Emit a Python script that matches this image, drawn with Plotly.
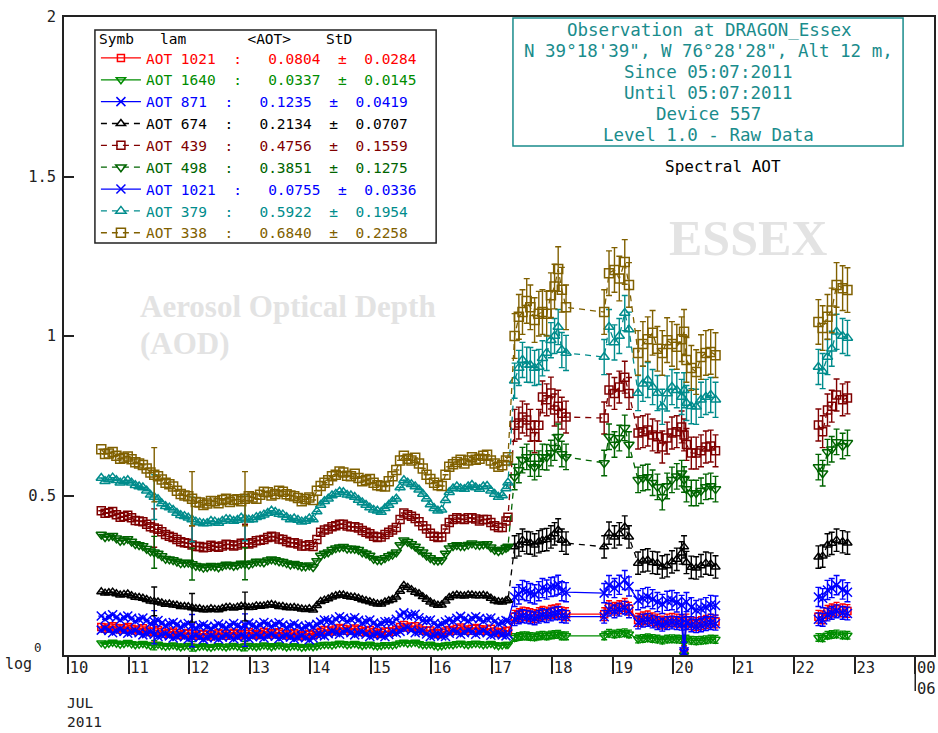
import plotly.graph_objects as go

# ---------------------------------------------------------------------------
# Observation times, day of July 2011 (the 21.50 row breaks the line 20.7 -> 22.4)
# ---------------------------------------------------------------------------
TIME = [10.55, 10.6125, 10.675, 10.7375, 10.80, 10.8625, 10.925, 10.9875,
        11.05, 11.1125, 11.175, 11.2375, 11.30, 11.3625, 11.425, 11.4875,
        11.55, 11.6125, 11.675, 11.7375, 11.80, 11.8625, 11.925, 11.9875,
        12.05, 12.1125, 12.175, 12.2375, 12.30, 12.3625, 12.425, 12.4875,
        12.55, 12.6125, 12.675, 12.7375, 12.80, 12.8625, 12.925, 12.9875,
        13.05, 13.1125, 13.175, 13.2375, 13.30, 13.3625, 13.425, 13.4875,
        13.55, 13.6125, 13.675, 13.7375, 13.80, 13.8625, 13.925, 13.9875,
        14.05, 14.1125, 14.175, 14.2375, 14.30, 14.3625, 14.425, 14.4875,
        14.55, 14.6125, 14.675, 14.7375, 14.80, 14.8625, 14.925, 14.9875,
        15.05, 15.1125, 15.175, 15.2375, 15.30, 15.3625, 15.425, 15.4875,
        15.55, 15.6125, 15.675, 15.7375, 15.80, 15.8625, 15.925, 15.9875,
        16.05, 16.1125, 16.175, 16.2375, 16.30, 16.3625, 16.425, 16.4875,
        16.55, 16.6125, 16.675, 16.7375, 16.80, 16.8625, 16.925, 16.9875,
        17.05, 17.1125, 17.175, 17.2375, 17.27,
        17.38, 17.45, 17.51, 17.58, 17.64, 17.71, 17.78, 17.84, 17.91, 17.98, 18.04, 18.10, 18.16, 18.23,
        18.86, 18.94, 19.03, 19.11, 19.20, 19.27,
        19.42, 19.50, 19.58, 19.66, 19.74, 19.82, 19.90, 19.98, 20.06, 20.14, 20.18, 20.22,
        20.30, 20.38, 20.46, 20.54, 20.62, 20.70,
        21.50,
        22.40, 22.47, 22.55, 22.62, 22.70, 22.80, 22.88]

# Spectral AOT per wavelength (nm)
AOT_1021 = [0.088, 0.082, 0.086, 0.090, 0.085, 0.080, 0.084, 0.088, 0.082, 0.077,
            0.080, 0.084, 0.077, 0.072, 0.074, 0.078, 0.072, 0.067, 0.070, 0.074,
            0.068, 0.062, 0.066, 0.069, 0.065, 0.060, 0.064, 0.067, 0.063, 0.058,
            0.064, 0.069, 0.065, 0.060, 0.066, 0.070, 0.065, 0.061, 0.066, 0.071,
            0.066, 0.062, 0.067, 0.073, 0.069, 0.064, 0.068, 0.071, 0.066, 0.061,
            0.065, 0.069, 0.064, 0.059, 0.063, 0.067, 0.062, 0.068, 0.073, 0.078,
            0.077, 0.074, 0.080, 0.085, 0.082, 0.076, 0.080, 0.083, 0.078, 0.072,
            0.075, 0.078, 0.071, 0.066, 0.070, 0.074, 0.074, 0.073, 0.079, 0.088,
            0.094, 0.086, 0.089, 0.090, 0.083, 0.077, 0.076, 0.077, 0.070, 0.065,
            0.069, 0.074, 0.078, 0.076, 0.082, 0.086, 0.080, 0.076, 0.082, 0.085,
            0.081, 0.076, 0.080, 0.082, 0.074, 0.069, 0.072, 0.076, 0.075,
            0.120, 0.125, 0.130, 0.128, 0.125, 0.122, 0.128, 0.132, 0.130, 0.135, 0.137, 0.140, 0.130, 0.128,
            0.128, 0.150, 0.145, 0.150, 0.157, 0.145,
            0.110, 0.115, 0.118, 0.112, 0.108, 0.102, 0.108, 0.110, 0.108, 0.105, 0.010, 0.108,
            0.100, 0.097, 0.100, 0.104, 0.108, 0.105,
            None,
            0.120, 0.118, 0.135, 0.140, 0.145, 0.140, 0.138]

AOT_1640 = [0.038, 0.034, 0.037, 0.040, 0.037, 0.034, 0.036, 0.039, 0.035, 0.032,
            0.034, 0.036, 0.033, 0.030, 0.031, 0.034, 0.030, 0.027, 0.029, 0.031,
            0.028, 0.025, 0.028, 0.030, 0.027, 0.024, 0.027, 0.029, 0.026, 0.024,
            0.027, 0.029, 0.027, 0.025, 0.028, 0.030, 0.027, 0.025, 0.028, 0.030,
            0.028, 0.026, 0.028, 0.031, 0.029, 0.026, 0.029, 0.031, 0.028, 0.025,
            0.027, 0.029, 0.027, 0.024, 0.026, 0.028, 0.026, 0.028, 0.031, 0.033,
            0.033, 0.031, 0.034, 0.037, 0.035, 0.032, 0.034, 0.036, 0.033, 0.030,
            0.032, 0.034, 0.030, 0.028, 0.030, 0.032, 0.032, 0.031, 0.034, 0.038,
            0.040, 0.037, 0.038, 0.040, 0.035, 0.032, 0.032, 0.034, 0.030, 0.027,
            0.029, 0.031, 0.033, 0.032, 0.035, 0.037, 0.034, 0.032, 0.035, 0.037,
            0.035, 0.032, 0.034, 0.036, 0.032, 0.029, 0.031, 0.033, 0.033,
            0.055, 0.058, 0.060, 0.060, 0.058, 0.057, 0.060, 0.062, 0.060, 0.063, 0.064, 0.065, 0.060, 0.060,
            0.060, 0.068, 0.066, 0.068, 0.070, 0.066,
            0.050, 0.052, 0.054, 0.052, 0.050, 0.047, 0.050, 0.051, 0.050, 0.049, 0.000, 0.050,
            0.046, 0.045, 0.046, 0.048, 0.050, 0.049,
            None,
            0.055, 0.054, 0.062, 0.064, 0.066, 0.063, 0.062]

AOT_871 = [0.122, 0.112, 0.120, 0.126, 0.118, 0.110, 0.118, 0.122, 0.115, 0.106,
           0.112, 0.116, 0.108, 0.099, 0.104, 0.108, 0.100, 0.092, 0.098, 0.102,
           0.096, 0.088, 0.094, 0.099, 0.092, 0.085, 0.090, 0.095, 0.089, 0.083,
           0.090, 0.097, 0.091, 0.085, 0.093, 0.099, 0.092, 0.087, 0.094, 0.100,
           0.093, 0.088, 0.095, 0.102, 0.097, 0.090, 0.096, 0.101, 0.094, 0.086,
           0.092, 0.097, 0.091, 0.083, 0.089, 0.094, 0.088, 0.096, 0.103, 0.110,
           0.108, 0.103, 0.113, 0.120, 0.115, 0.106, 0.112, 0.117, 0.109, 0.100,
           0.105, 0.110, 0.100, 0.093, 0.099, 0.104, 0.105, 0.102, 0.112, 0.125,
           0.132, 0.122, 0.125, 0.128, 0.117, 0.108, 0.107, 0.110, 0.099, 0.092,
           0.097, 0.104, 0.110, 0.106, 0.115, 0.121, 0.113, 0.107, 0.115, 0.120,
           0.114, 0.106, 0.113, 0.116, 0.105, 0.098, 0.102, 0.108, 0.106,
           0.182, 0.190, 0.204, 0.200, 0.194, 0.190, 0.200, 0.210, 0.205, 0.213, 0.215, 0.220, 0.200, 0.197,
           0.194, 0.219, 0.210, 0.220, 0.235, 0.215,
           0.172, 0.178, 0.182, 0.175, 0.166, 0.160, 0.170, 0.172, 0.165, 0.157, 0.010, 0.166,
           0.150, 0.141, 0.145, 0.150, 0.157, 0.155,
           None,
           0.182, 0.178, 0.204, 0.210, 0.219, 0.205, 0.197]

AOT_674 = [0.198, 0.194, 0.195, 0.197, 0.192, 0.188, 0.190, 0.191, 0.186, 0.181,
           0.180, 0.178, 0.174, 0.169, 0.168, 0.166, 0.163, 0.159, 0.160, 0.157,
           0.156, 0.152, 0.152, 0.151, 0.148, 0.145, 0.145, 0.142, 0.142, 0.145,
           0.143, 0.142, 0.146, 0.149, 0.150, 0.147, 0.150, 0.153, 0.152, 0.149,
           0.150, 0.154, 0.153, 0.154, 0.157, 0.158, 0.156, 0.152, 0.152, 0.149,
           0.148, 0.149, 0.147, 0.144, 0.143, 0.145, 0.141, 0.155, 0.168, 0.172,
           0.176, 0.182, 0.186, 0.188, 0.188, 0.184, 0.182, 0.181, 0.178, 0.173,
           0.170, 0.167, 0.163, 0.160, 0.160, 0.166, 0.170, 0.174, 0.182, 0.200,
           0.218, 0.212, 0.205, 0.197, 0.192, 0.183, 0.175, 0.166, 0.160, 0.156,
           0.157, 0.169, 0.180, 0.186, 0.188, 0.186, 0.185, 0.188, 0.188, 0.186,
           0.186, 0.187, 0.185, 0.178, 0.170, 0.167, 0.166, 0.170, 0.172,
           0.339, 0.345, 0.360, 0.352, 0.351, 0.345, 0.355, 0.360, 0.362, 0.370, 0.380, 0.392, 0.360, 0.351,
           0.339, 0.382, 0.370, 0.380, 0.401, 0.370,
           0.288, 0.295, 0.298, 0.290, 0.288, 0.276, 0.280, 0.292, 0.300, 0.320, 0.339, 0.290,
           0.275, 0.273, 0.280, 0.288, 0.285, 0.276,
           None,
           0.307, 0.310, 0.345, 0.350, 0.360, 0.355, 0.351]

AOT_439 = [0.452, 0.444, 0.446, 0.450, 0.440, 0.432, 0.434, 0.438, 0.430, 0.422,
           0.420, 0.418, 0.410, 0.402, 0.398, 0.394, 0.386, 0.378, 0.372, 0.368,
           0.362, 0.355, 0.352, 0.350, 0.345, 0.340, 0.340, 0.336, 0.338, 0.344,
           0.340, 0.338, 0.342, 0.347, 0.346, 0.342, 0.345, 0.350, 0.350, 0.348,
           0.352, 0.358, 0.360, 0.362, 0.368, 0.372, 0.370, 0.364, 0.362, 0.356,
           0.352, 0.352, 0.348, 0.342, 0.342, 0.346, 0.340, 0.362, 0.385, 0.392,
           0.395, 0.402, 0.405, 0.410, 0.410, 0.404, 0.402, 0.402, 0.398, 0.390,
           0.385, 0.380, 0.372, 0.368, 0.370, 0.378, 0.385, 0.392, 0.400, 0.425,
           0.445, 0.440, 0.435, 0.428, 0.418, 0.405, 0.395, 0.382, 0.372, 0.368,
           0.370, 0.395, 0.415, 0.425, 0.430, 0.426, 0.425, 0.430, 0.430, 0.426,
           0.420, 0.425, 0.425, 0.415, 0.405, 0.400, 0.400, 0.420, 0.432,
           0.720, 0.727, 0.746, 0.737, 0.720, 0.684, 0.720, 0.809, 0.800, 0.821, 0.768, 0.780, 0.758, 0.746,
           0.743, 0.831, 0.820, 0.840, 0.871, 0.820,
           0.696, 0.700, 0.705, 0.690, 0.684, 0.652, 0.680, 0.696, 0.700, 0.715, 0.690, 0.660,
           0.633, 0.633, 0.640, 0.652, 0.655, 0.640,
           None,
           0.721, 0.700, 0.768, 0.780, 0.815, 0.800, 0.806]

AOT_498 = [0.378, 0.370, 0.372, 0.374, 0.366, 0.358, 0.360, 0.364, 0.356, 0.348,
           0.345, 0.342, 0.333, 0.325, 0.322, 0.318, 0.310, 0.302, 0.300, 0.298,
           0.293, 0.288, 0.289, 0.290, 0.285, 0.280, 0.278, 0.274, 0.276, 0.280,
           0.278, 0.275, 0.280, 0.284, 0.283, 0.280, 0.282, 0.287, 0.286, 0.284,
           0.288, 0.293, 0.292, 0.291, 0.297, 0.300, 0.298, 0.294, 0.292, 0.288,
           0.284, 0.286, 0.282, 0.278, 0.278, 0.281, 0.276, 0.295, 0.312, 0.318,
           0.322, 0.330, 0.335, 0.338, 0.339, 0.334, 0.334, 0.333, 0.330, 0.322,
           0.318, 0.312, 0.302, 0.298, 0.298, 0.304, 0.310, 0.315, 0.322, 0.345,
           0.360, 0.355, 0.348, 0.340, 0.330, 0.322, 0.312, 0.304, 0.298, 0.296,
           0.298, 0.318, 0.335, 0.342, 0.345, 0.342, 0.342, 0.346, 0.350, 0.346,
           0.345, 0.347, 0.348, 0.338, 0.330, 0.326, 0.330, 0.336, 0.340,
           0.558, 0.580, 0.611, 0.621, 0.600, 0.589, 0.600, 0.621, 0.620, 0.633, 0.650, 0.684, 0.630, 0.621,
           0.602, 0.684, 0.660, 0.680, 0.712, 0.660,
           0.549, 0.555, 0.558, 0.540, 0.527, 0.495, 0.530, 0.549, 0.560, 0.570, 0.550, 0.520,
           0.508, 0.508, 0.515, 0.527, 0.530, 0.520,
           None,
           0.589, 0.570, 0.636, 0.645, 0.668, 0.655, 0.665]

AOT_1021B = [0.078, 0.084, 0.077, 0.070, 0.075, 0.081, 0.074, 0.068, 0.072, 0.077,
             0.070, 0.063, 0.067, 0.072, 0.065, 0.058, 0.062, 0.066, 0.060, 0.053,
             0.058, 0.063, 0.057, 0.050, 0.056, 0.061, 0.055, 0.049, 0.054, 0.060,
             0.055, 0.050, 0.056, 0.062, 0.057, 0.051, 0.056, 0.062, 0.057, 0.052,
             0.057, 0.064, 0.058, 0.053, 0.060, 0.065, 0.059, 0.052, 0.057, 0.062,
             0.056, 0.050, 0.055, 0.060, 0.054, 0.048, 0.053, 0.064, 0.063, 0.060,
             0.067, 0.074, 0.070, 0.065, 0.072, 0.077, 0.070, 0.063, 0.068, 0.072,
             0.065, 0.058, 0.062, 0.067, 0.061, 0.057, 0.064, 0.072, 0.069, 0.074,
             0.082, 0.086, 0.078, 0.070, 0.073, 0.075, 0.066, 0.058, 0.061, 0.066,
             0.060, 0.058, 0.068, 0.076, 0.072, 0.065, 0.070, 0.077, 0.072, 0.065,
             0.071, 0.076, 0.070, 0.062, 0.065, 0.070, 0.063, 0.060, 0.066,
             0.112, 0.118, 0.122, 0.120, 0.118, 0.115, 0.120, 0.125, 0.122, 0.127, 0.130, 0.132, 0.122, 0.120,
             0.120, 0.142, 0.137, 0.142, 0.148, 0.137,
             0.102, 0.108, 0.110, 0.105, 0.100, 0.095, 0.100, 0.102, 0.100, 0.098, 0.005, 0.100,
             0.093, 0.090, 0.093, 0.097, 0.100, 0.098,
             None,
             0.112, 0.110, 0.127, 0.132, 0.137, 0.132, 0.130]

AOT_379 = [0.555, 0.545, 0.550, 0.556, 0.548, 0.540, 0.545, 0.548, 0.540, 0.532,
           0.528, 0.525, 0.515, 0.502, 0.495, 0.488, 0.475, 0.466, 0.462, 0.455,
           0.445, 0.438, 0.435, 0.430, 0.425, 0.418, 0.415, 0.412, 0.413, 0.420,
           0.418, 0.414, 0.420, 0.426, 0.425, 0.420, 0.423, 0.430, 0.428, 0.424,
           0.425, 0.432, 0.435, 0.440, 0.445, 0.452, 0.448, 0.442, 0.440, 0.432,
           0.425, 0.428, 0.423, 0.418, 0.420, 0.428, 0.425, 0.450, 0.470, 0.482,
           0.490, 0.500, 0.505, 0.512, 0.510, 0.502, 0.500, 0.495, 0.486, 0.478,
           0.470, 0.462, 0.455, 0.452, 0.448, 0.460, 0.470, 0.482, 0.490, 0.525,
           0.548, 0.540, 0.535, 0.528, 0.518, 0.505, 0.490, 0.472, 0.460, 0.452,
           0.455, 0.485, 0.510, 0.522, 0.528, 0.522, 0.520, 0.528, 0.533, 0.525,
           0.520, 0.528, 0.530, 0.515, 0.505, 0.495, 0.500, 0.522, 0.540,
           0.860, 0.900, 0.925, 0.910, 0.909, 0.900, 0.903, 0.930, 0.947, 0.987, 1.000, 1.028, 0.956, 0.947,
           0.934, 1.028, 0.980, 1.000, 1.072, 1.020,
           0.821, 0.850, 0.862, 0.840, 0.821, 0.778, 0.820, 0.840, 0.830, 0.809, 0.830, 0.790,
           0.780, 0.778, 0.800, 0.809, 0.815, 0.800,
           None,
           0.903, 0.890, 0.934, 0.960, 1.013, 1.000, 0.994]

AOT_338 = [0.645, 0.630, 0.632, 0.636, 0.625, 0.615, 0.618, 0.622, 0.614, 0.604,
           0.600, 0.596, 0.585, 0.572, 0.565, 0.560, 0.550, 0.540, 0.535, 0.528,
           0.515, 0.505, 0.500, 0.498, 0.490, 0.480, 0.478, 0.470, 0.475, 0.483,
           0.482, 0.476, 0.486, 0.490, 0.480, 0.486, 0.488, 0.482, 0.490, 0.498,
           0.494, 0.490, 0.502, 0.512, 0.510, 0.500, 0.505, 0.515, 0.512, 0.504,
           0.500, 0.498, 0.492, 0.482, 0.488, 0.494, 0.486, 0.515, 0.530, 0.540,
           0.548, 0.560, 0.565, 0.575, 0.572, 0.562, 0.560, 0.568, 0.555, 0.545,
           0.548, 0.552, 0.540, 0.532, 0.530, 0.528, 0.545, 0.560, 0.580, 0.610,
           0.625, 0.615, 0.610, 0.618, 0.600, 0.585, 0.565, 0.552, 0.540, 0.532,
           0.530, 0.565, 0.590, 0.598, 0.605, 0.612, 0.600, 0.610, 0.620, 0.612,
           0.615, 0.625, 0.628, 0.610, 0.600, 0.590, 0.595, 0.610, 0.620,
           1.000, 1.060, 1.075, 1.110, 1.090, 1.050, 1.070, 1.075, 1.070, 1.128, 1.155, 1.210, 1.145, 1.090,
           1.075, 1.197, 1.207, 1.180, 1.232, 1.160,
           0.947, 0.975, 0.990, 1.010, 0.960, 0.947, 0.987, 0.975, 0.966, 0.990, 1.013, 0.925,
           0.900, 0.887, 0.934, 0.947, 0.950, 0.940,
           None,
           1.044, 1.025, 1.060, 1.080, 1.160, 1.150, 1.144]

# Legend rows: wavelength label, mean and standard deviation of the period
LAMBDA = ["1021", "1640", "871", "674", "439", "498", "1021", "379", "338"]
MEAN = ["0.0804", "0.0337", "0.1235", "0.2134", "0.4756", "0.3851", "0.0755", "0.5922", "0.6840"]
STD = ["0.0284", "0.0145", "0.0419", "0.0707", "0.1559", "0.1275", "0.0336", "0.1954", "0.2258"]
SERIES = [AOT_1021, AOT_1640, AOT_871, AOT_674, AOT_439, AOT_498, AOT_1021B, AOT_379, AOT_338]

# Measurement uncertainty: a few noisy samples in the quiet days, larger after the 17th
ERR_SPIKE = [0.03, 0.015, 0.035, 0.045, 0.06, 0.05, 0.03, 0.07, 0.085]
ERR_LATE = [0.02, 0.012, 0.03, 0.035, 0.05, 0.04, 0.02, 0.055, 0.07]
SPIKE_DAYS = [11.425, 12.05, 12.925]

COLORS = ["#ff0000", "#008c00", "#0000ff", "#000000", "#800000",
          "#006400", "#0000ff", "#008c8c", "#806000"]
SYMBOLS = ["square-open", "triangle-down-open", "x-thin", "triangle-up-open", "square-open",
           "triangle-down-open", "x-thin", "triangle-up-open", "square-open"]
SIZES = [7, 8, 9, 8, 8, 9, 9, 9, 9]
DASHES = ["solid", "solid", "solid", "6px,5px", "6px,5px", "6px,5px", "solid", "6px,5px", "6px,5px"]

DAY_TICKS = list(range(10, 25))
DAY_LABELS = [str(d) for d in range(10, 24)] + ["00<br>06"]

INFO_LINES = ["Observation at DRAGON_Essex",
              "N 39°18'39\", W 76°28'28\", Alt 12 m,",
              "Since 05:07:2011",
              "Until 05:07:2011",
              "Device 557",
              "Level 1.0 - Raw Data"]

MONO = "DejaVu Sans Mono"
TEAL = "#1a8c8c"
INK = "#222222"
WATERMARK = "#e3e3e3"
X_RANGE = [9.934, 24.31]

# plot-area geometry in pixels, used to place decorations in paper units
W, H = 938, 733
L, R, T, B = 64, 936, 17, 655


def px(x):
    return (x - L) / (R - L)


def py(y):
    return (B - y) / (B - T)


NB = "\u00a0"

fig = go.Figure()
for i, ys in enumerate(SERIES):
    errs = []
    for t, v in zip(TIME, ys):
        if v is None:
            errs.append(0)
        elif t < 17.3:
            errs.append(ERR_SPIKE[i] if t in SPIKE_DAYS else 0)
        else:
            errs.append(ERR_LATE[i])
    name = (f'<span style="color:{COLORS[i]}">AOT{NB}{LAMBDA[i]}{NB * 2}:{NB * 3}'
            f'{MEAN[i]}{NB * 2}±{NB * 2}{STD[i]}</span>')
    fig.add_trace(go.Scatter(
        x=TIME, y=ys, mode="lines+markers", name=name,
        line=dict(color=COLORS[i], width=1.3, dash=DASHES[i]),
        marker=dict(symbol=SYMBOLS[i], size=SIZES[i], color=COLORS[i],
                    line=dict(color=COLORS[i], width=1.5)),
        error_y=dict(type="data", array=errs, symmetric=True, color=COLORS[i],
                     thickness=1.4, width=3),
    ))


def note(x, y, text, size, color, family=MONO, xanchor="center", align="center"):
    return dict(x=px(x), y=py(y), xref="paper", yref="paper", xanchor=xanchor,
                yanchor="middle", align=align, showarrow=False, text=text,
                font=dict(family=family, size=size, color=color))


annotations = [
    # watermark texts
    note(138, 306, "<b>Aerosol Optical Depth</b>", 31, WATERMARK, "Liberation Serif", "left", "left"),
    note(138, 343, "<b>(AOD)</b>", 31, WATERMARK, "Liberation Serif", "left", "left"),
    note(750, 238, "<b>ESSEX</b>", 50, WATERMARK, "Liberation Serif"),
    # legend header
    note(97, 39, f"Symb{NB * 3}lam{NB * 7}&lt;AOT&gt;{NB * 4}StD", 14.5, "#000",
         xanchor="left", align="left"),
    note(725, 166, "Spectral AOT", 16, "#000"),
    # scale note at the origin and the month / year under the time axis
    note(18, 664, "log", 15, INK),
    note(32, 647, "0", 12.5, INK, xanchor="left", align="left"),
    note(65, 712, "JUL<br>2011", 14.5, INK, xanchor="left", align="left"),
]
# station information box
for k, line in enumerate(INFO_LINES):
    annotations.append(note(710, 30 + 21 * k, line, 17.5, TEAL))

x24 = (24 - X_RANGE[0]) / (X_RANGE[1] - X_RANGE[0])
shapes = [
    # legend frame
    dict(type="rect", xref="paper", yref="paper", x0=px(95), x1=px(437),
         y0=py(243), y1=py(30), line=dict(color=INK, width=1.5), fillcolor="white",
         layer="below"),
    # station information frame
    dict(type="rect", xref="paper", yref="paper", x0=px(514), x1=px(905),
         y0=py(146), y1=py(18), line=dict(color=TEAL, width=1.5), fillcolor="white",
         layer="below"),
    # second-level tick under the last day label
    dict(type="line", xref="paper", yref="paper", x0=x24, x1=x24,
         y0=py(674), y1=py(691), line=dict(color=INK, width=1.5)),
]

fig.update_layout(
    width=W, height=H,
    margin=dict(l=L, r=W - R, t=T, b=H - B),
    paper_bgcolor="white", plot_bgcolor="white",
    showlegend=True,
    legend=dict(x=px(96), y=py(42), xanchor="left", yanchor="top",
                bgcolor="rgba(0,0,0,0)", borderwidth=0,
                font=dict(family=MONO, size=14.5, color="#000"),
                itemwidth=40, tracegroupgap=0),
    annotations=annotations,
    shapes=shapes,
    xaxis=dict(range=X_RANGE, tickmode="array", tickvals=DAY_TICKS, ticktext=DAY_LABELS,
               ticks="outside", ticklen=17, tickwidth=1.5, tickcolor=INK,
               ticklabelshift=11, ticklabelstandoff=-19,
               tickfont=dict(family=MONO, size=15.5, color=INK),
               showgrid=False, zeroline=False, showline=True, mirror=True,
               linecolor=INK, linewidth=1.5),
    yaxis=dict(range=[0, 2], tickmode="array", tickvals=[0.5, 1, 1.5, 2],
               ticktext=["0.5", "1", "1.5", "2"],
               ticks="inside", ticklen=10, tickwidth=1.5, tickcolor=INK,
               ticklabelstandoff=3,
               tickfont=dict(family=MONO, size=15.5, color=INK),
               showgrid=False, zeroline=False, showline=True, mirror=True,
               linecolor=INK, linewidth=1.5),
)

fig.write_html("out.html")
